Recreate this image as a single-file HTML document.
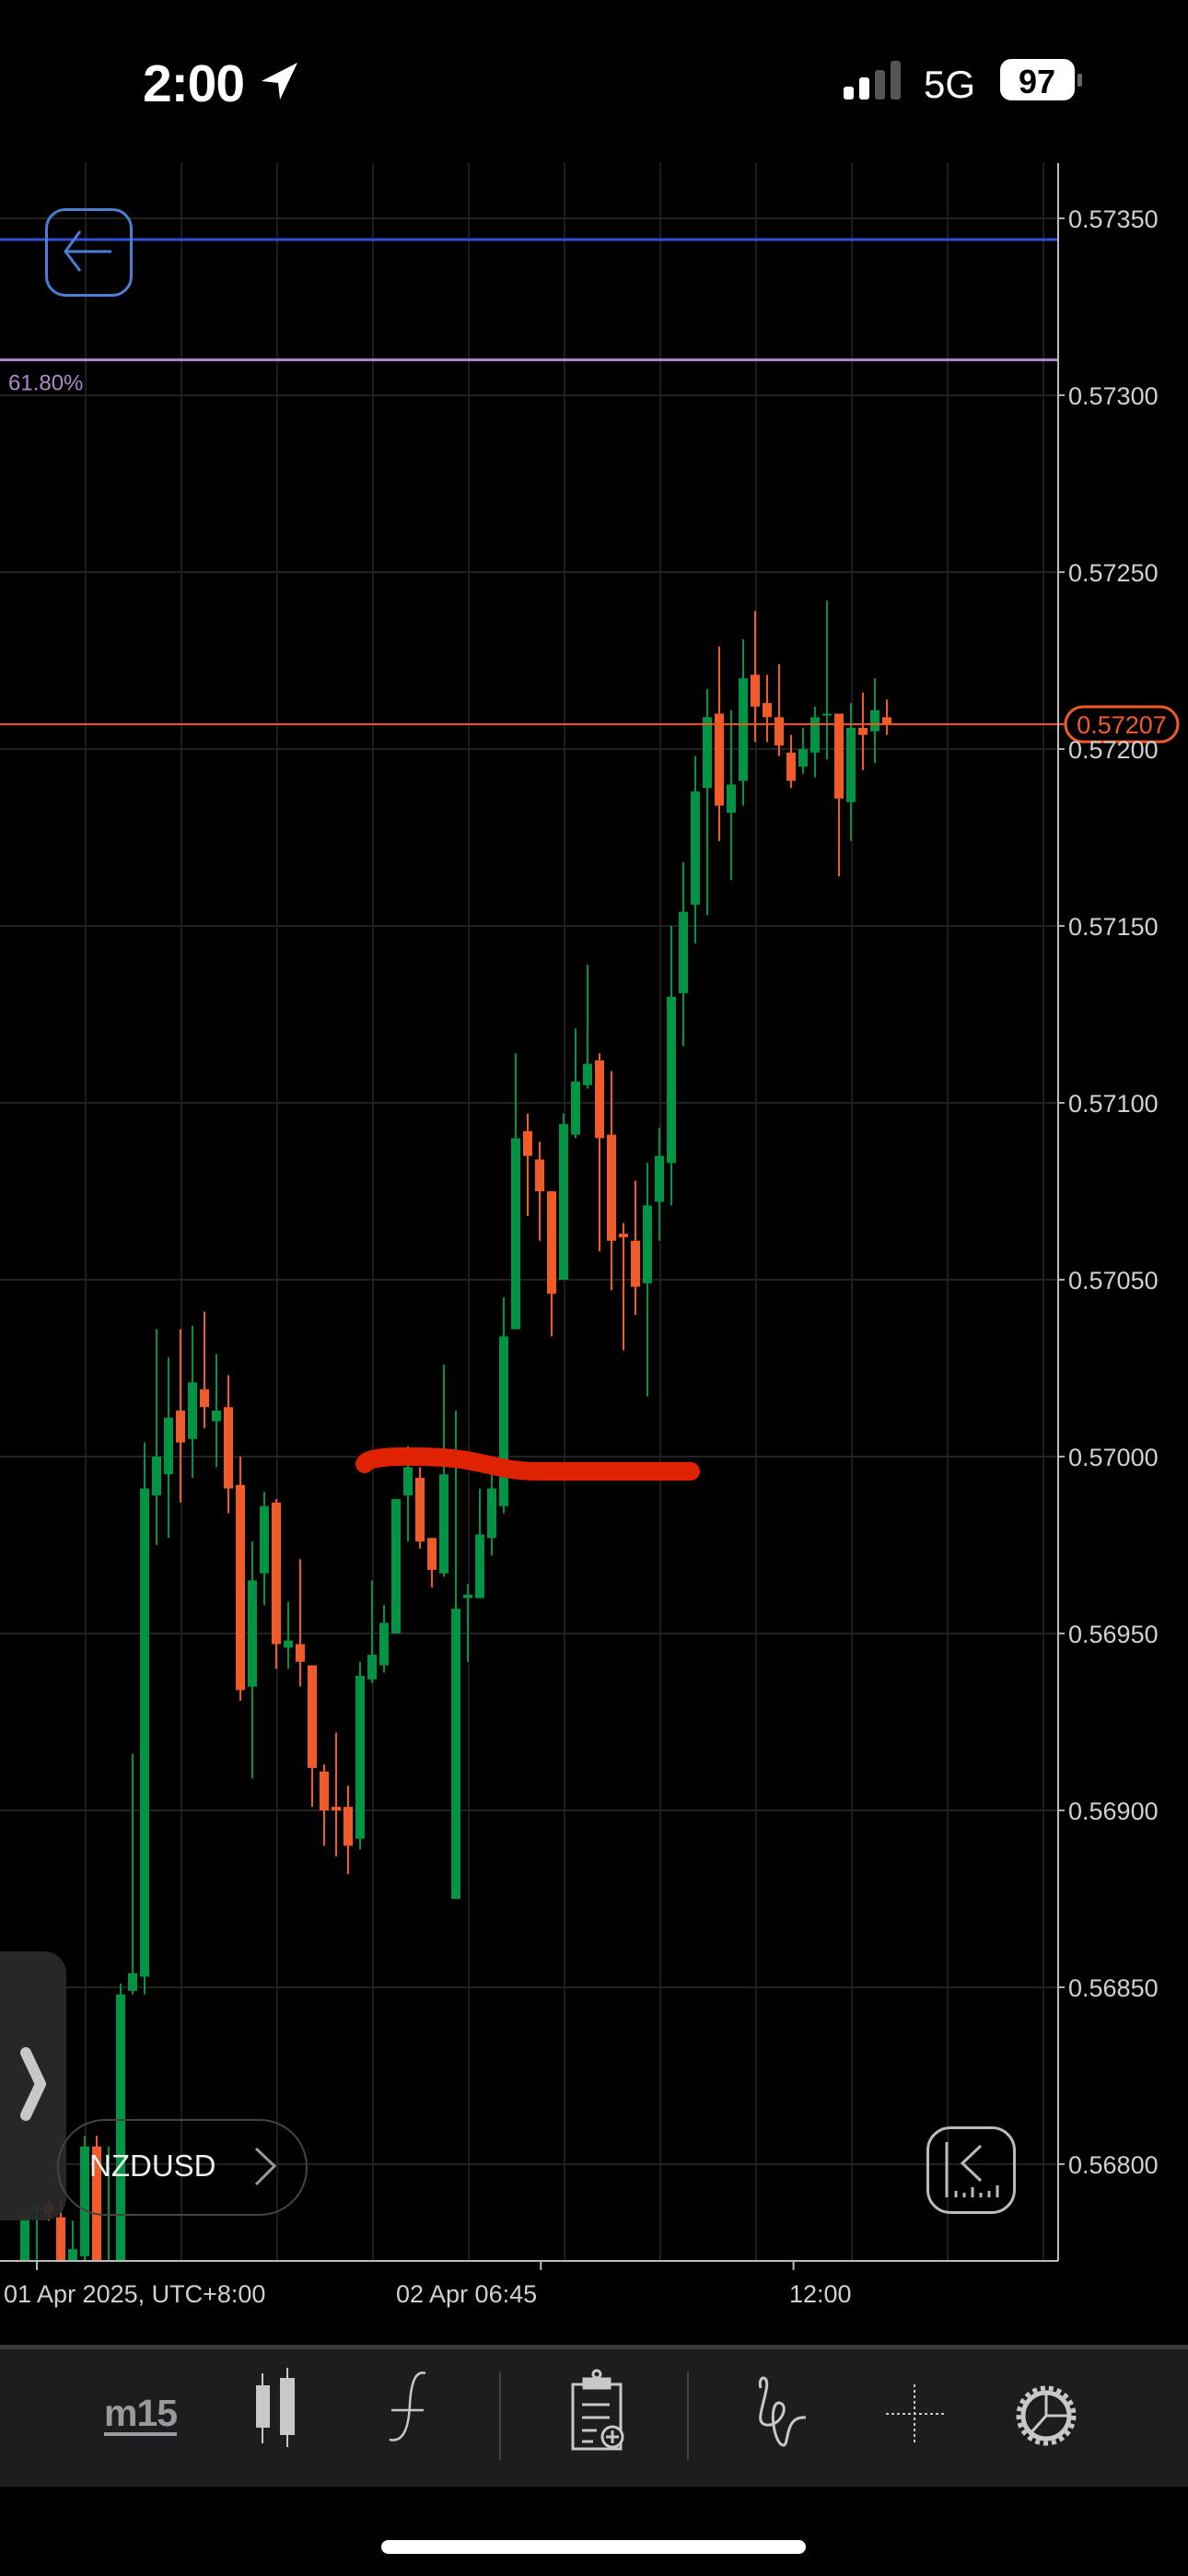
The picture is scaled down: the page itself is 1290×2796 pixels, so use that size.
<!DOCTYPE html>
<html><head><meta charset="utf-8">
<style>
html,body{margin:0;padding:0;background:#000;}
body{width:1290px;height:2796px;position:relative;overflow:hidden;font-family:"Liberation Sans",sans-serif;}
.abs{position:absolute;}
</style></head>
<body>
<div class="abs" style="left:155px;top:58px;font-size:57px;font-weight:bold;color:#fff;letter-spacing:-1px;">2:00</div>
<svg class="abs" style="left:0;top:0" width="1290" height="140">
  <path d="M323 68 L284 88 L302 90 L304 108 Z" fill="#fff"/>
  <rect x="916" y="94" width="11" height="14" rx="3" fill="#fff"/>
  <rect x="933" y="84" width="11" height="24" rx="3" fill="#fff"/>
  <rect x="950" y="76" width="11" height="32" rx="3" fill="#555"/>
  <rect x="967" y="66" width="11" height="42" rx="3" fill="#555"/>
  <text x="1003" y="106" font-size="42" fill="#fff" font-family="Liberation Sans">5G</text>
  <rect x="1086" y="64" width="81" height="45" rx="12" fill="#fff"/>
  <rect x="1170" y="80" width="5" height="14" rx="2" fill="#666"/>
  <text x="1126" y="101" font-size="36" font-weight="bold" fill="#000" text-anchor="middle" font-family="Liberation Sans">97</text>
</svg>

<svg id="chart" class="abs" style="left:0;top:0" width="1290" height="2796">
  <defs><clipPath id="plot"><rect x="0" y="177" width="1149" height="2277"/></clipPath></defs>
  <g id="grid"></g>
  <g id="candles" clip-path="url(#plot)"></g>
  <g id="overlays"></g>
  <g id="axes"></g>
</svg>

<div class="abs" style="left:49px;top:226px;width:89px;height:90px;border:3px solid #4a7fd4;border-radius:22px;"></div>
<svg class="abs" style="left:49px;top:226px" width="95" height="95"><path d="M22 47 L72 47 M38 25 L22 47 L38 68" stroke="#4a7fd4" stroke-width="3" fill="none"/></svg>

<div class="abs" style="left:-20px;top:2118px;width:92px;height:292px;background:rgba(42,42,42,0.93);border-radius:0 24px 24px 0;"></div>
<svg class="abs" style="left:0;top:2200px" width="72" height="110"><path d="M28 28 L44 62 L28 96" stroke="#c8c8cc" stroke-width="12" stroke-linecap="round" stroke-linejoin="round" fill="none"/></svg>

<div class="abs" style="left:62px;top:2300px;width:268px;height:101px;border:2px solid #444;border-radius:52px;"></div>
<div class="abs" style="left:97px;top:2332px;font-size:33px;color:#eee;">NZDUSD</div>
<svg class="abs" style="left:270px;top:2325px" width="40" height="50"><path d="M8 7 L28 26 L8 46" stroke="#999" stroke-width="3" fill="none"/></svg>

<div class="abs" style="left:1006px;top:2308px;width:91px;height:89px;border:3px solid #bbb;border-radius:26px;"></div>
<svg class="abs" style="left:1006px;top:2308px" width="95" height="95">
  <path d="M22 17 L22 77 M59 21 L39 40 L59 59" stroke="#bbb" stroke-width="3" fill="none"/>
  <path d="M32 77 V70 M41 77 V72 M50 77 V66 M59 77 V72 M68 77 V70 M77 77 V64" stroke="#bbb" stroke-width="3"/>
</svg>

<div class="abs" style="left:0;top:2545px;width:1290px;height:149px;background:#1d1d1f;border-top:5px solid #38383a;"></div>
<div class="abs" style="left:113px;top:2598px;font-size:41px;font-weight:bold;color:#9a9a9e;border-bottom:4px solid #9a9a9e;line-height:42px;letter-spacing:-1px;">m15</div>
<svg class="abs" style="left:0;top:2560px" width="1290" height="120">
  <g fill="#c8c8c8" stroke="#c8c8c8" stroke-width="2">
    <line x1="285" y1="16" x2="285" y2="92"/><rect x="279" y="30" width="13" height="44"/>
    <line x1="312" y1="10" x2="312" y2="96"/><rect x="305" y="22" width="14" height="60"/>
  </g>
  <g><path d="M462 16 C450 12 446 30 445 50 C444 70 440 92 423 88 M425 56 L460 56" stroke="#c8c8c8" stroke-width="2.5" fill="none"/></g>
  <line x1="543" y1="14" x2="543" y2="110" stroke="#444" stroke-width="2"/>
  <g stroke="#c8c8c8" stroke-width="3" fill="none">
    <path d="M622 28 H674 V98 H622 Z"/><path d="M634 22 H662 V32 H634 Z" fill="#c8c8c8"/><circle cx="648" cy="17" r="4"/>
    <path d="M632 50 H662 M632 64 H662 M632 78 H648 M632 90 H644"/><circle cx="665" cy="85" r="11" fill="#1d1d1f"/><path d="M665 78 V92 M658 85 H672"/>
  </g>
  <line x1="747" y1="14" x2="747" y2="110" stroke="#444" stroke-width="2"/>
  <g><path d="M826 32 C822 18 836 16 832 34 C828 55 820 70 832 72 C848 74 858 50 846 48 C834 48 840 92 850 94 C858 96 850 62 875 64" stroke="#c8c8c8" stroke-width="3" fill="none"/></g>
  <g stroke="#c8c8c8" stroke-width="2" stroke-dasharray="3 3"><line x1="993" y1="28" x2="993" y2="92"/><line x1="962" y1="60" x2="1025" y2="60"/></g>
  <g fill="none" stroke="#c8c8c8">
    <circle cx="1136" cy="62" r="30" stroke-width="5" stroke-dasharray="5 4"/>
    <circle cx="1136" cy="62" r="25" stroke-width="5"/>
    <path d="M1136 62 L1136 38 M1136 62 L1160 62 M1136 62 L1120 80" stroke-width="3"/>
  </g>
</svg>
<div class="abs" style="left:414px;top:2757px;width:461px;height:15px;background:#fff;border-radius:8px;"></div>

<script>
const priceTicks = [0.5735,0.5730,0.5725,0.5720,0.5715,0.5710,0.5705,0.5700,0.5695,0.5690,0.5685,0.5680];
const tickLabels = ["0.57350","0.57300","0.57250","0.57200","0.57150","0.57100","0.57050","0.57000","0.56950","0.56900","0.56850","0.56800"];
const opens  = [0.5675,0.56787,0.56789,0.56785,0.56770,0.56774,0.56805,0.5676,0.5675,0.56849,0.56853,0.56989,0.56995,0.57013,0.57005,0.57019,0.57010,0.57014,0.56992,0.56935,0.56967,0.56987,0.56946,0.56947,0.56941,0.56911,0.56901,0.56901,0.56892,0.56937,0.56941,0.56950,0.56989,0.56994,0.56977,0.56967,0.56875,0.56960,0.56960,0.56977,0.56986,0.57036,0.57092,0.57084,0.57075,0.57050,0.57091,0.57105,0.57112,0.57091,0.57063,0.57061,0.57049,0.57072,0.57083,0.57131,0.57156,0.57189,0.57210,0.57182,0.57191,0.57221,0.57213,0.57209,0.57199,0.57195,0.57199,0.57210,0.57210,0.57185,0.57206,0.57205,0.57209];
const highs  = [0.56786,0.56789,0.56790,0.56790,0.56784,0.56808,0.56808,0.56805,0.56851,0.56916,0.57004,0.57036,0.57028,0.57036,0.57037,0.57041,0.57029,0.57023,0.57000,0.56976,0.56990,0.56988,0.56959,0.56971,0.56941,0.56913,0.56922,0.56907,0.56942,0.56965,0.56958,0.56988,0.57003,0.56997,0.56977,0.57026,0.57013,0.56964,0.56991,0.56995,0.57045,0.57114,0.57097,0.57089,0.57075,0.57097,0.57121,0.57139,0.57114,0.57109,0.57066,0.57078,0.57083,0.57093,0.57150,0.57168,0.57198,0.57217,0.57229,0.57211,0.57231,0.57239,0.57221,0.57224,0.57204,0.57206,0.57212,0.57242,0.57210,0.57213,0.57216,0.57220,0.57214];
const lows   = [0.5674,0.56773,0.56784,0.5676,0.5676,0.56770,0.5675,0.5675,0.5674,0.56848,0.56848,0.56975,0.56977,0.56987,0.56994,0.57008,0.56997,0.56984,0.56931,0.56909,0.56958,0.56940,0.56940,0.56935,0.56901,0.56890,0.56887,0.56882,0.56889,0.56936,0.56939,0.56950,0.56976,0.56974,0.56963,0.56966,0.56875,0.56942,0.56960,0.56972,0.56984,0.57036,0.57068,0.57061,0.57034,0.57050,0.57090,0.57104,0.57058,0.57047,0.57030,0.57040,0.57017,0.57061,0.57071,0.57116,0.57145,0.57153,0.57174,0.57163,0.57184,0.57202,0.57202,0.57198,0.57189,0.57193,0.57192,0.57197,0.57164,0.57174,0.57194,0.57196,0.57204];
const closes = [0.567854,0.56788,0.56786,0.56770,0.56776,0.56805,0.5676,0.5676,0.56848,0.56854,0.56991,0.57000,0.57011,0.57004,0.57021,0.57014,0.57013,0.56991,0.56934,0.56965,0.56986,0.56947,0.56948,0.56942,0.56912,0.56900,0.56900,0.56890,0.56938,0.56944,0.56953,0.56988,0.56997,0.56976,0.56968,0.56995,0.56957,0.56961,0.56978,0.56991,0.57034,0.57090,0.57085,0.57075,0.57046,0.57094,0.57106,0.57111,0.57090,0.57061,0.57062,0.57048,0.57071,0.57085,0.57130,0.57154,0.57188,0.57209,0.57184,0.57190,0.57220,0.57212,0.57209,0.57201,0.57191,0.57200,0.57209,0.57210,0.57186,0.57206,0.57204,0.57211,0.57207];
const timeLabels = ["01 Apr 2025, UTC+8:00","02 Apr 06:45","12:00"];
const timeTickIndex = [1,43.1,64.2];
const lastPrice = 0.57207;
const blueLevel = 0.57344;
const fibLevel = 0.57310;

const NS = "http://www.w3.org/2000/svg";
function y(p){ return 1581 + (0.57 - p) / 0.0005 * 192; }
function x(i){ return 27 + i * 13; }
function mk(tag, attrs, parent){ const e = document.createElementNS(NS, tag); for (const k in attrs) e.setAttribute(k, attrs[k]); parent.appendChild(e); return e; }
const grid = document.getElementById('grid'), cg = document.getElementById('candles'), ov = document.getElementById('overlays'), ax = document.getElementById('axes');

for (let gx = 93; gx < 1149; gx += 104) {
  const l = mk('line', {x1:gx, y1:177, x2:gx, y2:2454, stroke:'#1e1e1e', 'stroke-width':2}, grid);
  
  
}
priceTicks.forEach((p, k) => {
  const gy = y(p);
  const l = mk('line', {x1:0, y1:gy, x2:1149, y2:gy, stroke:'#222', 'stroke-width':2}, grid);
  
  
  mk('line', {x1:1149, y1:gy, x2:1156, y2:gy, stroke:'#aaa', 'stroke-width':2}, ax);
  const t = mk('text', {x:1160, y:gy + 10, 'font-size':27, fill:'#d0d0d0', 'font-family':'Liberation Sans'}, ax);
  t.textContent = tickLabels[k];
  
  
});

opens.forEach((o, i) => {
  const c = closes[i], up = c >= o, col = up ? '#009444' : '#f15a29';
  const cx = x(i);
  const w = mk('line', {x1:cx, y1:y(highs[i]), x2:cx, y2:y(lows[i]), stroke:col, 'stroke-width':2}, cg);
  
  
  const top = y(Math.max(o, c)), bot = y(Math.min(o, c));
  const b = mk('rect', {x:cx - 5, y:top, width:10, height:Math.max(2, bot - top), fill:col}, cg);
  
  
});

const bl = mk('line', {x1:0, y1:y(blueLevel), x2:1149, y2:y(blueLevel), stroke:'#2f50d8', 'stroke-width':3}, ov);


const fl = mk('line', {x1:0, y1:y(fibLevel), x2:1149, y2:y(fibLevel), stroke:'#a98cc8', 'stroke-width':3}, ov);


const ft = mk('text', {x:9, y:y(fibLevel) + 33, 'font-size':24, fill:'#a98cc8', 'font-family':'Liberation Sans'}, ov);
ft.textContent = '61.80%';



const ly = y(lastPrice);
const pl = mk('line', {x1:0, y1:ly, x2:1158, y2:ly, stroke:'#f15a29', 'stroke-width':2}, ov);


const pr = mk('rect', {x:1157, y:ly - 19, width:122, height:38, rx:19, fill:'#000', stroke:'#f15a29', 'stroke-width':3}, ov);


const pt = mk('text', {x:1218, y:ly + 10, 'font-size':27, fill:'#f15a29', 'text-anchor':'middle', 'font-family':'Liberation Sans'}, ov);
pt.textContent = '0.57207';



const rs = mk('path', {d:'M396 1589 C400 1580 440 1580 480 1582 C520 1584 540 1596 580 1597 L750 1597', stroke:'#e02200', 'stroke-width':20, 'stroke-linecap':'round', fill:'none'}, ov);



const axl = mk('line', {x1:1149, y1:177, x2:1149, y2:2454, stroke:'#bbb', 'stroke-width':2}, ax);


const bxl = mk('line', {x1:0, y1:2454, x2:1149, y2:2454, stroke:'#bbb', 'stroke-width':2}, ax);


const labelX = [4, 430, 857];
timeLabels.forEach((s, k) => {
  const tx = x(timeTickIndex[k]);
  mk('line', {x1:tx, y1:2454, x2:tx, y2:2464, stroke:'#bbb', 'stroke-width':2}, ax);
  const t = mk('text', {x:labelX[k], y:2499, 'font-size':27, fill:'#d0d0d0', 'font-family':'Liberation Sans'}, ax);
  t.textContent = s;
  
  
});
</script>
</body></html>
